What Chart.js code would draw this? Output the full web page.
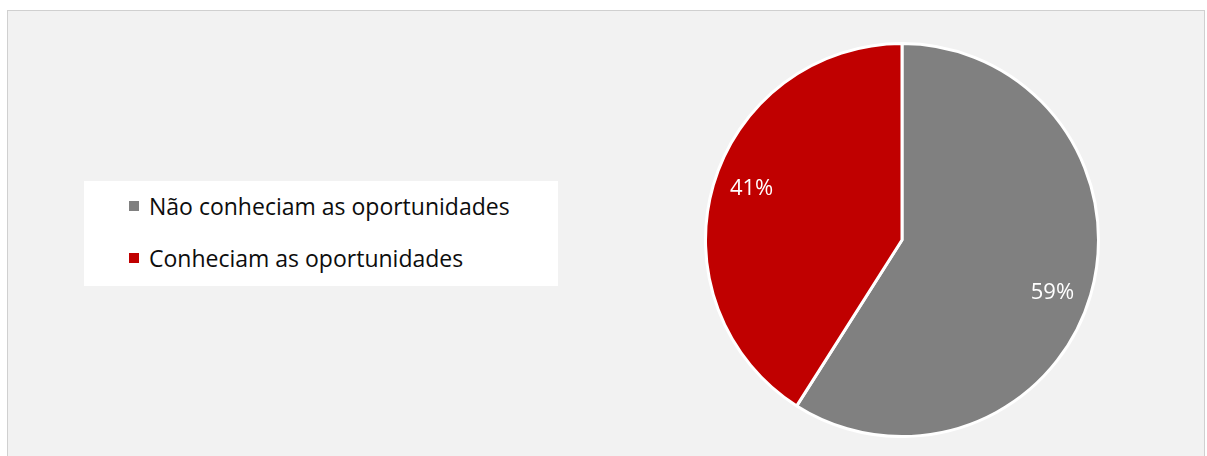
<!DOCTYPE html>
<html>
<head>
<meta charset="utf-8">
<script src="https://cdn.jsdelivr.net/npm/chart.js@4.4.1/dist/chart.umd.min.js"></script>
<style>
    html, body { margin: 0; padding: 0; background: #ffffff; }
    body { width: 1207px; height: 456px; overflow: hidden; position: relative; font-family: "Open Sans", sans-serif; }
    #frame {
        position: absolute; left: 7px; top: 10px; width: 1198px; height: 460px;
        background: #f2f2f2; border: 1px solid #d0d0d0; box-sizing: border-box;
    }
    #legend-container {
        position: absolute; left: 84px; top: 181px; width: 474px; height: 105px;
        background: #ffffff;
    }
    #chart-wrap { position: absolute; left: 704px; top: 42px; width: 396px; height: 396px; }
</style>
</head>
<body>
<div id="frame"></div>
<div id="legend-container"></div>
<div id="chart-wrap"><canvas id="chart" width="396" height="396"></canvas></div>
<script>
    const labels = ['Não conheciam as oportunidades', 'Conheciam as oportunidades'];
    const values = [59, 41];
    const colors = ['#808080', '#C00000'];

    const getOrCreateLegendList = (id) => {
        const legendContainer = document.getElementById(id);
        let listContainer = legendContainer.querySelector('ul');
        if (!listContainer) {
            listContainer = document.createElement('ul');
            listContainer.style.listStyle = 'none';
            listContainer.style.margin = 0;
            listContainer.style.padding = '0 0 0 45px';
            legendContainer.appendChild(listContainer);
        }
        return listContainer;
    };

    const htmlLegendPlugin = {
        id: 'htmlLegend',
        afterUpdate(chart, args, options) {
            const ul = getOrCreateLegendList(options.containerID);
            while (ul.firstChild) {
                ul.firstChild.remove();
            }
            const items = chart.options.plugins.legend.labels.generateLabels(chart);
            items.forEach((item, i) => {
                const li = document.createElement('li');
                li.style.display = 'flex';
                li.style.alignItems = 'center';
                li.style.height = '26px';
                li.style.marginTop = i === 0 ? '12px' : '26px';

                // Color box
                const boxSpan = document.createElement('span');
                boxSpan.style.background = item.fillStyle;
                boxSpan.style.display = 'inline-block';
                boxSpan.style.width = '10px';
                boxSpan.style.height = '10px';
                boxSpan.style.marginRight = '10px';

                // Text
                const textContainer = document.createElement('p');
                textContainer.style.margin = 0;
                textContainer.style.padding = 0;
                textContainer.style.whiteSpace = 'nowrap';
                textContainer.style.color = '#0d0d0d';
                textContainer.style.fontSize = '23px';
                textContainer.style.lineHeight = '26px';
                textContainer.appendChild(document.createTextNode(item.text));

                li.appendChild(boxSpan);
                li.appendChild(textContainer);
                ul.appendChild(li);
            });
        }
    };

    // percentages inside the slices
    const sliceLabelsPlugin = {
        id: 'sliceLabels',
        afterDatasetsDraw(chart) {
            const ctx = chart.ctx;
            const meta = chart.getDatasetMeta(0);
            const total = values.reduce((a, b) => a + b, 0);
            ctx.save();
            ctx.fillStyle = '#ffffff';
            ctx.font = '22px "Open Sans"';
            ctx.textAlign = 'center';
            ctx.textBaseline = 'middle';
            meta.data.forEach((arc, i) => {
                const p = arc.getProps(['x', 'y', 'startAngle', 'endAngle', 'outerRadius'], true);
                // Excel puts them a little off the middle of the slice
                const mid = (p.startAngle + p.endAngle) / 2 + 0.05;
                const r = p.outerRadius * 0.81;
                const pct = Math.round(values[i] / total * 100) + '%';
                ctx.fillText(pct, p.x + Math.cos(mid) * r, p.y + Math.sin(mid) * r + 1);
            });
            ctx.restore();
        }
    };

    const chart = new Chart(document.getElementById('chart'), {
        type: 'pie',
        data: {
            labels: labels,
            datasets: [{
                data: values,
                backgroundColor: colors,
                borderColor: '#ffffff',
                borderWidth: 3
            }]
        },
        options: {
            responsive: false,
            animation: false,
            layout: { padding: 0 },
            plugins: {
                htmlLegend: { containerID: 'legend-container' },
                legend: { display: false },
                tooltip: { enabled: false }
            }
        },
        plugins: [htmlLegendPlugin, sliceLabelsPlugin]
    });
</script>
</body>
</html>
